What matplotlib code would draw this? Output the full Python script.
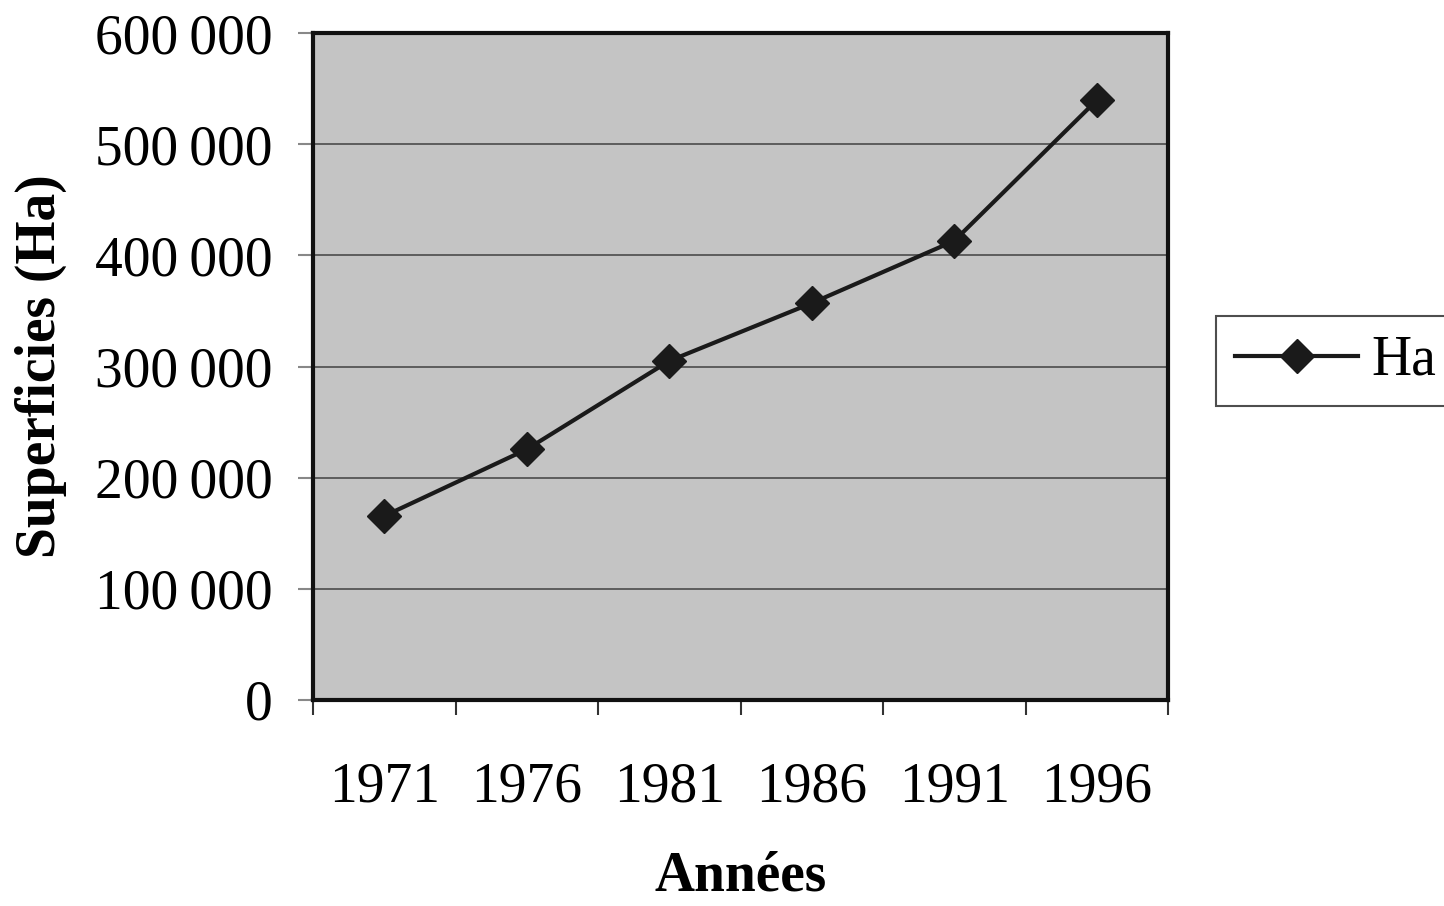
import matplotlib.pyplot as plt
from matplotlib.ticker import FuncFormatter, FixedLocator
import numpy as np

# Superficies par année
annees = ['1971', '1976', '1981', '1986', '1991', '1996']
superficies = [165500, 225500, 305000, 357000, 413000, 539500]

plt.rcParams['font.family'] = ['Liberation Serif', 'DejaVu Serif']

fig = plt.figure(figsize=(14.44, 9.06), dpi=100)
ax = fig.add_axes([313/1444, 1-700/906, (1168-313)/1444, (700-33)/906])
ax.set_facecolor('#c4c4c4')

x = np.arange(len(annees))
ax.plot(x, superficies, color='#1a1a1a', lw=3, marker='D', markersize=17,
        markerfacecolor='#1a1a1a', markeredgecolor='#1a1a1a', label='Ha', zorder=3)

ax.set_xlim(-0.5, len(annees) - 0.5)
ax.set_ylim(0, 600000)
ax.set_yticks(np.arange(0, 600001, 100000))
ax.yaxis.set_major_formatter(FuncFormatter(lambda v, p: f'{int(v):,}'.replace(',', '\u2009')))
ax.grid(axis='y', color='#555555', lw=1.3)
ax.set_axisbelow(True)

ax.set_xticks(x)
ax.set_xticklabels(annees)
ax.xaxis.set_minor_locator(FixedLocator(np.arange(-0.5, len(annees), 1)))
ax.tick_params(axis='x', which='major', length=0, pad=44, labelsize=40)
ax.tick_params(axis='x', which='minor', length=11, width=1.5, color='#333333')
ax.tick_params(axis='y', which='major', length=11, width=1.5, color='#888888',
               pad=18, labelsize=40)

for s in ax.spines.values():
    s.set_linewidth(3)
    s.set_color('#111111')

ax.set_ylabel('Superficies (Ha)', fontsize=40, fontweight='bold', labelpad=20)
ax.set_xlabel('Années', fontsize=40, fontweight='bold', labelpad=27)

leg = fig.legend(loc='center left', bbox_to_anchor=(1216/1444, 1-361/906),
                 fontsize=40, frameon=True, fancybox=False, handlelength=2.2,
                 borderpad=0.35, handletextpad=0.25, borderaxespad=0)
leg.get_frame().set_edgecolor('#222222')
leg.get_frame().set_linewidth(1.5)

fig.savefig('out.png', dpi=100)
